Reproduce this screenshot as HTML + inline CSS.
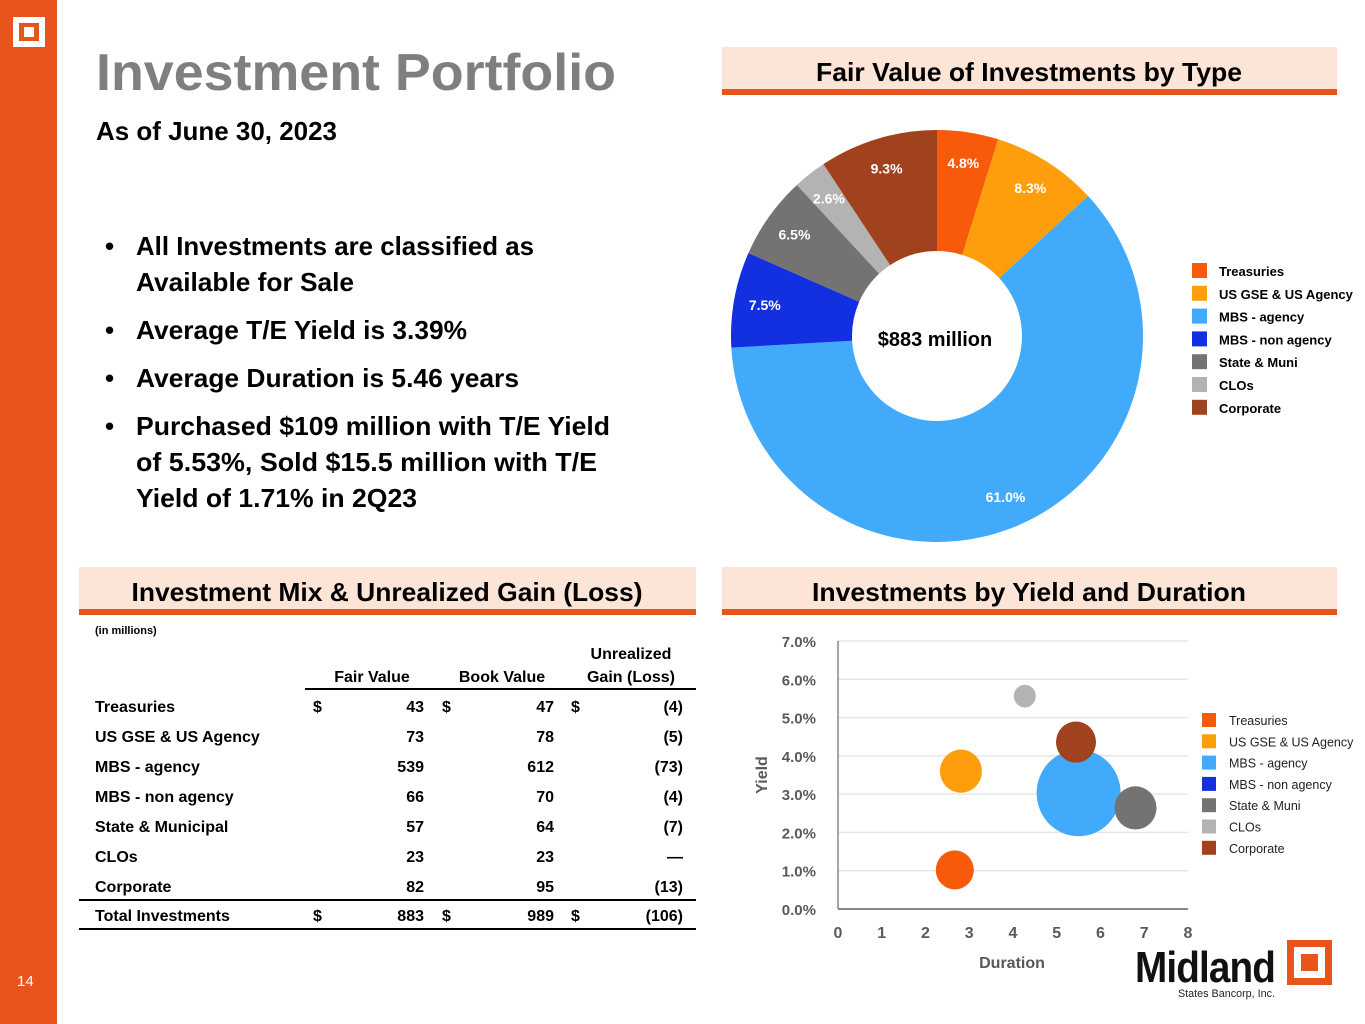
<!DOCTYPE html>
<html><head><meta charset="utf-8"><style>
html,body{margin:0;padding:0;background:#fff;}
svg{display:block;font-family:"Liberation Sans",Arial,sans-serif;}
.b{font-weight:bold;}
</style></head><body>
<svg id="page" width="1365" height="1024" viewBox="0 0 1365 1024">
<rect x="0" y="0" width="57" height="1024" fill="#E8541C"/>
<g>
<rect x="13" y="17" width="32" height="30" fill="#fff"/><rect x="19" y="23" width="20" height="18" fill="#E8541C"/><rect x="24" y="27" width="10" height="10" fill="#fff"/>
</g>
<text x="17" y="986" font-size="15" fill="#fff">14</text>

<text x="96" y="90" font-size="52" class="b" fill="#7f7f7f" textLength="520" lengthAdjust="spacingAndGlyphs">Investment Portfolio</text>
<text x="96" y="140" font-size="26" class="b" fill="#000" textLength="241" lengthAdjust="spacingAndGlyphs">As of June 30, 2023</text>

<g class="b" font-size="26" fill="#000">
<text x="105" y="255">•</text><text x="136" y="255" textLength="398" lengthAdjust="spacingAndGlyphs">All Investments are classified as</text>
<text x="136" y="291" textLength="218" lengthAdjust="spacingAndGlyphs">Available for Sale</text>
<text x="105" y="339">•</text><text x="136" y="339" textLength="331" lengthAdjust="spacingAndGlyphs">Average T/E Yield is 3.39%</text>
<text x="105" y="387">•</text><text x="136" y="387" textLength="383" lengthAdjust="spacingAndGlyphs">Average Duration is 5.46 years</text>
<text x="105" y="435">•</text><text x="136" y="435" textLength="474" lengthAdjust="spacingAndGlyphs">Purchased $109 million with T/E Yield</text>
<text x="136" y="471" textLength="461" lengthAdjust="spacingAndGlyphs">of 5.53%, Sold $15.5 million with T/E</text>
<text x="136" y="507" textLength="281" lengthAdjust="spacingAndGlyphs">Yield of 1.71% in 2Q23</text>
</g>

<g>
<rect x="722" y="47" width="615" height="42" fill="#FCE4D6"/><rect x="722" y="89" width="615" height="6" fill="#E8541C"/>
<text x="1029" y="81" font-size="26" class="b" text-anchor="middle" textLength="426" lengthAdjust="spacingAndGlyphs">Fair Value of Investments by Type</text>
</g>
<g>
<rect x="79" y="567" width="617" height="42" fill="#FCE4D6"/><rect x="79" y="609" width="617" height="6" fill="#E8541C"/>
<text x="387" y="601" font-size="26" class="b" text-anchor="middle" textLength="511" lengthAdjust="spacingAndGlyphs">Investment Mix &amp; Unrealized Gain (Loss)</text>
</g>
<g>
<rect x="722" y="567" width="615" height="42" fill="#FCE4D6"/><rect x="722" y="609" width="615" height="6" fill="#E8541C"/>
<text x="1029" y="601" font-size="26" class="b" text-anchor="middle" textLength="434" lengthAdjust="spacingAndGlyphs">Investments by Yield and Duration</text>
</g>

<g id="donut"></g>
<g id="table"></g>
<g id="bubble"></g>

<g>
<text x="1135" y="982" font-size="44" class="b" fill="#111" textLength="140" lengthAdjust="spacingAndGlyphs" letter-spacing="-1">Midland</text>
<rect x="1287" y="940" width="45" height="45" fill="#E8541C"/><rect x="1294" y="947" width="31" height="31" fill="#fff"/><rect x="1301" y="954" width="17" height="17" fill="#E8541C"/>
<text x="1178" y="997" font-size="11" fill="#222" textLength="97" lengthAdjust="spacingAndGlyphs">States Bancorp, Inc.</text>
</g>
</svg>
<script>
const NS='http://www.w3.org/2000/svg';
const types=['Treasuries','US GSE & US Agency','MBS - agency','MBS - non agency','State & Muni','CLOs','Corporate'];
const colors=['#F85A0B','#FF9E0C','#41AAFB','#1230E0','#757371','#B3B3B3','#A1421F'];
const shares=[4.8,8.3,61.0,7.5,6.5,2.6,9.3];
const shareLabels=['4.8%','8.3%','61.0%','7.5%','6.5%','2.6%','9.3%'];

const rowNames=['Treasuries','US GSE & US Agency','MBS - agency','MBS - non agency','State & Municipal','CLOs','Corporate'];
const fairValues=[43,73,539,66,57,23,82];
const bookValues=[47,78,612,70,64,23,95];
const gainValues=['(4)','(5)','(73)','(4)','(7)','—','(13)'];
const totals=['883','989','(106)'];

const durations=[2.67,2.81,5.5,null,6.8,4.27,5.44];
const yields=[1.02,3.6,3.03,null,2.64,5.56,4.36];
const bubbleSizes=[19,21,42,0,21,11,20];
const yTicks=[0,1,2,3,4,5,6,7];
const xTicks=[0,1,2,3,4,5,6,7,8];

function mk(tag,attrs,parent){const e=document.createElementNS(NS,tag);for(const k in attrs)e.setAttribute(k,attrs[k]);parent.appendChild(e);return e;}
function txt(parent,x,y,s,attrs){const t=mk('text',Object.assign({x:x,y:y},attrs||{}),parent);t.textContent=s;return t;}

// Donut
const dg=document.getElementById('donut');
const cx=937,cy=336,R=206,r0=85;
let acc=0;const total=shares.reduce((a,b)=>a+b,0);
shares.forEach((v,i)=>{
 const a0=acc/total*2*Math.PI,a1=(acc+v)/total*2*Math.PI;acc+=v;
 const p=(a,rr)=>[cx+rr*Math.sin(a),cy-rr*Math.cos(a)];
 const [x0,y0]=p(a0,R),[x1,y1]=p(a1,R),[x2,y2]=p(a1,r0),[x3,y3]=p(a0,r0);
 const lg=(a1-a0)>Math.PI?1:0;
 const path=mk('path',{d:`M${x0},${y0}A${R},${R} 0 ${lg} 1 ${x1},${y1}L${x2},${y2}A${r0},${r0} 0 ${lg} 0 ${x3},${y3}Z`,fill:colors[i]},dg);
 
 
 const am=(a0+a1)/2;const [lx,ly]=p(am,175);
 const t=txt(dg,lx,ly+5,shareLabels[i],{'font-size':14,'font-weight':'bold',fill:'#fff','text-anchor':'middle'});
 
 
 const ly2=271+i*22.8;
 const sw=mk('rect',{x:1192,y:ly2-8,width:15,height:15,fill:colors[i]},dg);
 
 
 const lt=txt(dg,1219,ly2+5,types[i],{'font-size':13,'font-weight':'bold',fill:'#000'});
 
 
});
const ct=txt(dg,935,346,'$883 million',{'font-size':20,'font-weight':'bold','text-anchor':'middle',fill:'#000'});



// Table
const tg=document.getElementById('table');
const fs={'font-size':16,'font-weight':'bold',fill:'#000'};
let e;
e=txt(tg,95,634,'(in millions)',{'font-size':11,'font-weight':'bold'});
e=txt(tg,372,682,'Fair Value',Object.assign({'text-anchor':'middle'},fs));
e=txt(tg,502,682,'Book Value',Object.assign({'text-anchor':'middle'},fs));
e=txt(tg,631,659,'Unrealized',Object.assign({'text-anchor':'middle'},fs));
txt(tg,631,682,'Gain (Loss)',Object.assign({'text-anchor':'middle'},fs));
mk('rect',{x:305,y:688,width:391,height:2,fill:'#000'},tg);
rowNames.forEach((n,i)=>{
 const y=712+i*30;
 const rt=txt(tg,95,y,n,fs);
 
 
 if(i===0){txt(tg,313,y,'$',fs);txt(tg,442,y,'$',fs);txt(tg,571,y,'$',fs);}
 txt(tg,424,y,String(fairValues[i]),Object.assign({'text-anchor':'end'},fs));
 txt(tg,554,y,String(bookValues[i]),Object.assign({'text-anchor':'end'},fs));
 txt(tg,683,y,gainValues[i],Object.assign({'text-anchor':'end'},fs));
});
mk('rect',{x:79,y:899,width:617,height:2,fill:'#000'},tg);
const ty=921;
e=txt(tg,95,ty,'Total Investments',fs);
txt(tg,313,ty,'$',fs);txt(tg,442,ty,'$',fs);txt(tg,571,ty,'$',fs);
txt(tg,424,ty,totals[0],Object.assign({'text-anchor':'end'},fs));
txt(tg,554,ty,totals[1],Object.assign({'text-anchor':'end'},fs));
txt(tg,683,ty,totals[2],Object.assign({'text-anchor':'end'},fs));
mk('rect',{x:79,y:928,width:617,height:2,fill:'#000'},tg);

// Bubble chart
const bg=document.getElementById('bubble');
const X0=838,X1=1188,Y0=909,Y1=641;
const xs=v=>X0+(v-0)/(8-0)*(X1-X0);
const ys=v=>Y0-(v-0)/(7-0)*(Y0-Y1);
yTicks.forEach(t=>{
 if(t>0){const g=mk('line',{x1:X0,x2:X1,y1:ys(t),y2:ys(t),stroke:'#e6e6e6','stroke-width':1.5},bg);}
 const l=txt(bg,816,ys(t)+6,t.toFixed(1)+'%',{'font-size':15,'font-weight':'bold',fill:'#595959','text-anchor':'end'});
 
 
});
mk('line',{x1:X0,x2:X0,y1:Y1,y2:Y0,stroke:'#888','stroke-width':1.5},bg);
mk('line',{x1:X0,x2:X1,y1:Y0,y2:Y0,stroke:'#888','stroke-width':2},bg);
xTicks.forEach(t=>{
 const l=txt(bg,xs(t),938,String(t),{'font-size':16,'font-weight':'bold',fill:'#595959','text-anchor':'middle'});
 
 
});
e=txt(bg,1012,968,'Duration',{'font-size':16,'font-weight':'bold',fill:'#595959','text-anchor':'middle'});

e=txt(bg,0,0,'Yield',{'font-size':16,'font-weight':'bold',fill:'#595959','text-anchor':'middle',transform:'translate(767,775) rotate(-90)'});

const order=[2,0,1,4,5,6];
order.forEach(i=>{
 if(durations[i]==null)return;
 const c=mk('ellipse',{cx:xs(durations[i]),cy:ys(yields[i]),rx:bubbleSizes[i],ry:bubbleSizes[i]*1.03,fill:colors[i]},bg);
 
 
});
types.forEach((n,i)=>{
 const y=720+i*21.3;
 const s=mk('rect',{x:1202,y:y-7,width:14,height:14,fill:colors[i]},bg);
 
 
 const t=txt(bg,1229,y+5,n,{'font-size':12.5,fill:'#222'});
 
 
});
</script>
</body></html>
